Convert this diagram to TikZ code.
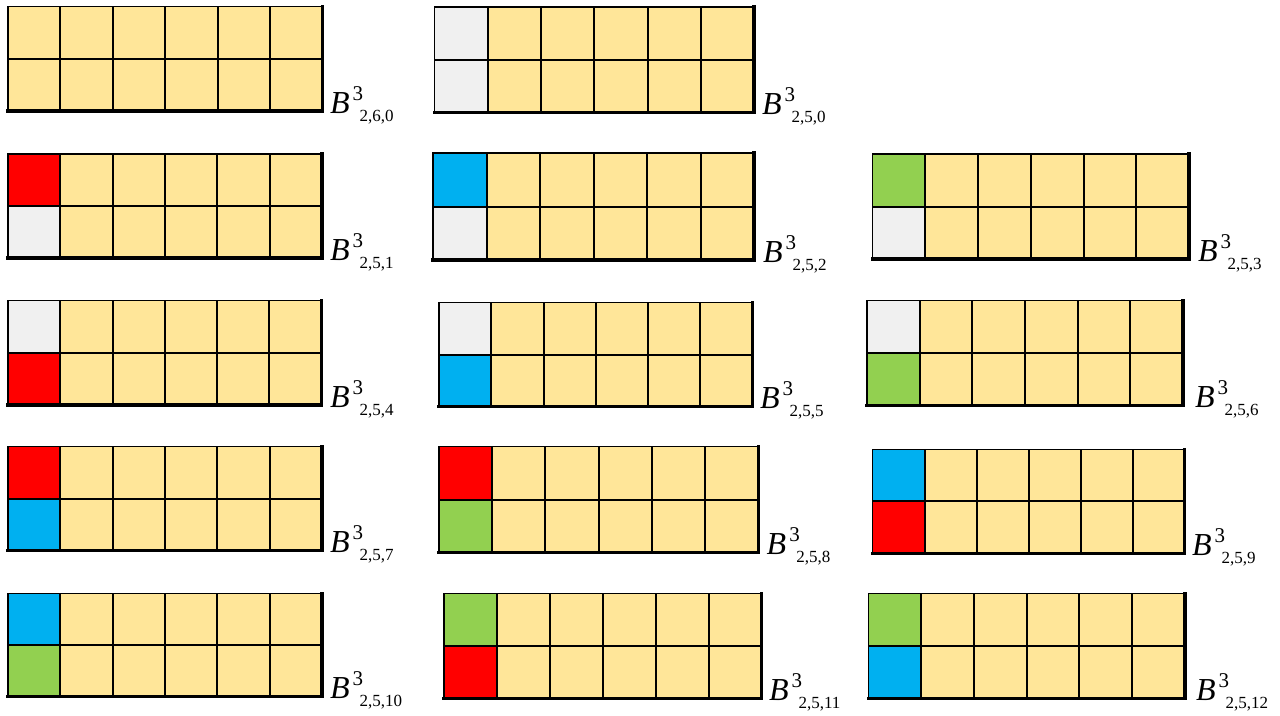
\documentclass[tikz,border=0pt]{standalone}
\usepackage{fontspec}
\setmainfont{Liberation Serif}
\definecolor{cy}{HTML}{FFE699}
\definecolor{cg}{HTML}{F0F0F0}
\definecolor{cr}{HTML}{FF0000}
\definecolor{cb}{HTML}{00B0F0}
\definecolor{cgr}{HTML}{92D050}
\tikzset{
  gridline/.style={black, line width=2pt},
  edgeline/.style={black, line width=3.2pt, line cap=rect},
  lab/.style={inner sep=0pt, outer sep=0pt}
}
% #1 name, #2 left, #3 top, #4 right, #5 bottom, #6 top-left colour, #7 bottom-left colour, #8 subscript, #9 label x
\newcommand{\bgrid}[9]{%
  \fill[cy] (#2,#3) rectangle (#4,#5);
  \fill[#6] (#2,#3) rectangle ({#2+(#4-#2)/6},{(#3+#5)/2});
  \fill[#7] (#2,{(#3+#5)/2}) rectangle ({#2+(#4-#2)/6},#5);
  \foreach \k in {1,...,5} \draw[gridline] ({#2+\k*(#4-#2)/6},#3) -- ({#2+\k*(#4-#2)/6},#5);
  \draw[gridline] (#2,{(#3+#5)/2}) -- (#4,{(#3+#5)/2});
  \draw[gridline, line width=1.5pt] (#2,#5) -- (#2,#3) -- (#4,#3);
  \draw[edgeline] (#4,#3) -- (#4,#5) -- (#2,#5);
  \node[lab, anchor=base west] (#1) at (#9,{#5+2}) {\fontsize{32}{32}\selectfont\textit{B}\kern3pt\rlap{\fontsize{21}{21}\selectfont\raisebox{13pt}{3}}\kern7pt{\fontsize{17}{17}\selectfont\raisebox{-8pt}{#8}}};
}
\begin{document}
\begin{tikzpicture}[x=1pt,y=-1pt]
\useasboundingbox[fill=white] (0,0) rectangle (1280,715);
\bgrid{l1}{8}{6.7}{322.7}{111}{cy}{cy}{2,6,0}{330}
\bgrid{l2}{434.7}{7}{754}{112.5}{cg}{cg}{2,5,0}{762}
\bgrid{l3}{8}{154}{322}{258}{cr}{cg}{2,5,1}{330}
\bgrid{l4}{433}{153}{754}{260}{cb}{cg}{2,5,2}{763}
\bgrid{l5}{872.7}{154}{1189}{259}{cgr}{cg}{2,5,3}{1198}
\bgrid{l6}{8}{300.7}{321.7}{405}{cg}{cr}{2,5,4}{330}
\bgrid{l7}{439}{302.7}{752.7}{406.7}{cg}{cb}{2,5,5}{760}
\bgrid{l8}{867}{300.7}{1183}{405.7}{cg}{cgr}{2,5,6}{1195}
\bgrid{l9}{8}{446.7}{322}{550.7}{cr}{cb}{2,5,7}{330}
\bgrid{l10}{439}{446.7}{758.3}{552.3}{cr}{cgr}{2,5,8}{766.7}
\bgrid{l11}{872.7}{449.3}{1184.7}{553.3}{cb}{cr}{2,5,9}{1192}
\bgrid{l12}{8}{593.3}{322}{696.7}{cb}{cgr}{2,5,10}{330}
\bgrid{l13}{444}{593.3}{761.7}{698.3}{cgr}{cr}{2,5,11}{769}
\bgrid{l14}{868.3}{593.3}{1185}{698.3}{cgr}{cb}{2,5,12}{1196}
\end{tikzpicture}
\end{document}
